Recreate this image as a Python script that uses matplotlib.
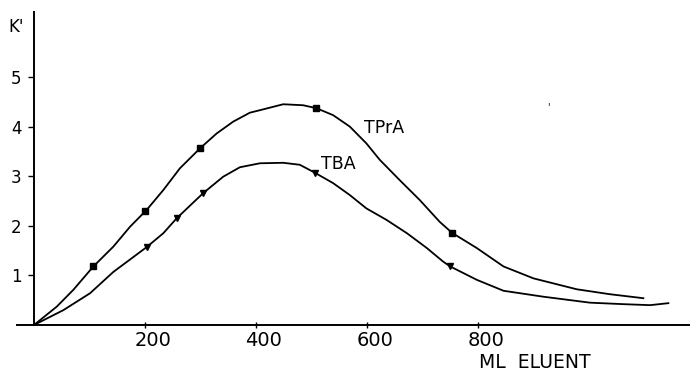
"""Capacity factor k' versus eluent volume for TPrA and TBA."""

import matplotlib

matplotlib.use("Agg")
import matplotlib.pyplot as plt
import matplotlib.transforms as mtransforms

# traced curves (ml eluent, k')
tpra_ml = [0, 41, 71, 107, 143, 173, 203, 233, 263, 299, 329, 359, 389, 407,
           449, 485, 509, 539, 569, 599, 623, 659, 695, 731, 753, 798, 846,
           900, 978, 1038, 1098]
tpra_k = [0, 0.37, 0.71, 1.18, 1.58, 1.98, 2.32, 2.72, 3.16, 3.56, 3.86, 4.10,
          4.28, 4.33, 4.45, 4.43, 4.37, 4.23, 4.00, 3.66, 3.33, 2.92, 2.52,
          2.08, 1.86, 1.55, 1.18, 0.94, 0.72, 0.62, 0.54]
tba_ml = [0, 53, 101, 143, 203, 233, 257, 305, 341, 371, 407, 449, 479, 506,
          539, 569, 599, 635, 672, 708, 737, 750, 798, 846, 918, 1002, 1062,
          1110, 1143]
tba_k = [0, 0.30, 0.64, 1.07, 1.57, 1.85, 2.15, 2.66, 2.99, 3.18, 3.26, 3.27,
         3.23, 3.07, 2.86, 2.62, 2.35, 2.12, 1.85, 1.55, 1.28, 1.18, 0.91,
         0.69, 0.57, 0.45, 0.42, 0.40, 0.44]

# measured points
tpra_pts_ml = [107, 200, 299, 509, 753]
tpra_pts_k = [1.18, 2.30, 3.56, 4.37, 1.86]
tba_pts_ml = [203, 257, 305, 506, 750]
tba_pts_k = [1.57, 2.15, 2.66, 3.07, 1.18]

x_ticks = [200, 400, 600, 800]
y_ticks = [1, 2, 3, 4, 5]

fig = plt.figure(figsize=(6.9, 3.72), dpi=100)
ax = fig.add_axes([17 / 690, 47 / 372, 673 / 690, 315 / 372])
ax.set_xlim(-30.6, 1182)
ax.set_ylim(0, 6.35)

ax.plot(tpra_ml, tpra_k, color="black", lw=1.3)
ax.plot(tba_ml, tba_k, color="black", lw=1.3)
ax.plot(tpra_pts_ml, tpra_pts_k, "s", color="black", ms=4.5)
ax.plot(tba_pts_ml, tba_pts_k, "v", color="black", ms=4)

for side in ["top", "right"]:
    ax.spines[side].set_visible(False)
ax.spines["left"].set_position(("data", 0))
ax.spines["left"].set_bounds(0, 6.3)
ax.spines["left"].set_linewidth(1.4)
ax.spines["bottom"].set_linewidth(1.4)

ax.set_yticks(y_ticks)
ax.set_yticklabels([str(v) for v in y_ticks], fontsize=12)
ax.tick_params(axis="y", direction="out", length=4, width=1, pad=5)
ax.set_xticks(x_ticks)
ax.set_xticklabels([str(v) for v in x_ticks], fontsize=14)
ax.tick_params(axis="x", direction="inout", length=4, width=1, pad=2)
shift = mtransforms.ScaledTranslation(8 / 100, 0, fig.dpi_scale_trans)
for lbl in ax.get_xticklabels():
    lbl.set_transform(lbl.get_transform() + shift)

ax.text(-32, 6.0, "K'", fontsize=12, ha="center", va="center")
ax.text(902, -0.75, "ML  ELUENT", fontsize=13.5, ha="center", va="center",
        clip_on=False)
ax.text(631, 3.98, "TPrA", fontsize=12.5, ha="center", va="center")
ax.text(549, 3.24, "TBA", fontsize=12.5, ha="center", va="center")
ax.text(926, 4.4, "'", fontsize=7, ha="center", va="center")

fig.savefig("out.png", dpi=100)
